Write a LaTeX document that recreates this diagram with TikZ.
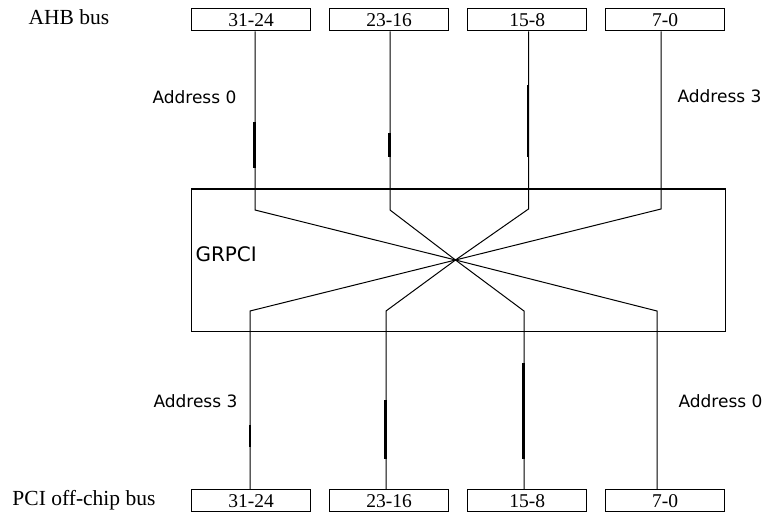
\documentclass[tikz,border=0pt]{standalone}
\usepackage{fontspec}
\setmainfont{Liberation Serif}
\newfontfamily\addrfont{DejaVu Sans}
\begin{document}
\begin{tikzpicture}[x=1pt,y=-1pt,line width=1pt,
  bitbox/.style={draw,line width=1.3pt,minimum width=119pt,minimum height=22pt,inner sep=0pt,anchor=north west,font=\fontsize{19.5}{19}\selectfont},
  lbl/.style={anchor=base west,inner sep=0pt,font=\fontsize{21.5}{21}\selectfont},
  addr/.style={anchor=base west,inner sep=0pt,font=\addrfont\fontsize{17}{17}\selectfont},
  wire/.style={line width=1pt},
  thk/.style={line width=2.2pt}]
\useasboundingbox (0,0) rectangle (764,513);

% bus labels
\node[lbl] (ahb) at (28,25) {AHB bus};
\node[lbl] (pci) at (12,505) {PCI off-chip bus};

% top bit boxes
\node[bitbox] (t1) at (191,8) {31-24};
\node[bitbox] (t2) at (329,8) {23-16};
\node[bitbox] (t3) at (467,8) {15-8};
\node[bitbox] (t4) at (605,8) {7-0};
% bottom bit boxes
\node[bitbox] (b1) at (191,489) {31-24};
\node[bitbox] (b2) at (329,489) {23-16};
\node[bitbox] (b3) at (467,489) {15-8};
\node[bitbox] (b4) at (605,489) {7-0};

% GRPCI block
\node[draw,line width=1.2pt,minimum width=534pt,minimum height=142pt,inner sep=0pt,anchor=north west] (g) at (191,189) {};
\draw[line width=2pt] (g.north west) -- (g.north east);
\node[anchor=base west,inner sep=0pt,font=\addrfont\fontsize{20}{20}\selectfont] (gl) at (195,262) {GRPCI};

% address labels
\node[addr] (a0t) at (152,104) {Address 0};
\node[addr] (a3t) at (677,103) {Address 3};
\node[addr] (a3b) at (153,407) {Address 3};
\node[addr] (a0b) at (678,408) {Address 0};

% crossing point and bends
\coordinate (c) at (455.5,260);
\coordinate (u1) at (255,210);
\coordinate (u2) at (390,210);
\coordinate (u3) at (528.5,209);
\coordinate (u4) at (661,209);
\coordinate (d1) at (250,311);
\coordinate (d2) at (386,311);
\coordinate (d3) at (524,311);
\coordinate (d4) at (657,311);

% wires
\draw[wire] (t1.south -| u1) -- (u1) -- (c) -- (d4) -- (d4 |- b4.north);
\draw[wire] (t2.south -| u2) -- (u2) -- (c) -- (d3) -- (d3 |- b3.north);
\draw[wire] (t3.south -| u3) -- (u3) -- (c) -- (d2) -- (d2 |- b2.north);
\draw[wire] (t4.south -| u4) -- (u4) -- (c) -- (d1) -- (d1 |- b1.north);

% heavier stretches on the wires
\draw[thk] (254.5,122) -- (254.5,168);
\draw[thk] (389.5,133) -- (389.5,157);
\draw[thk] (528,85) -- (528,157);
\draw[thk] (250,425) -- (250,447);
\draw[thk] (385.5,400) -- (385.5,459);
\draw[thk] (523.5,363) -- (523.5,459);
\end{tikzpicture}
\end{document}
